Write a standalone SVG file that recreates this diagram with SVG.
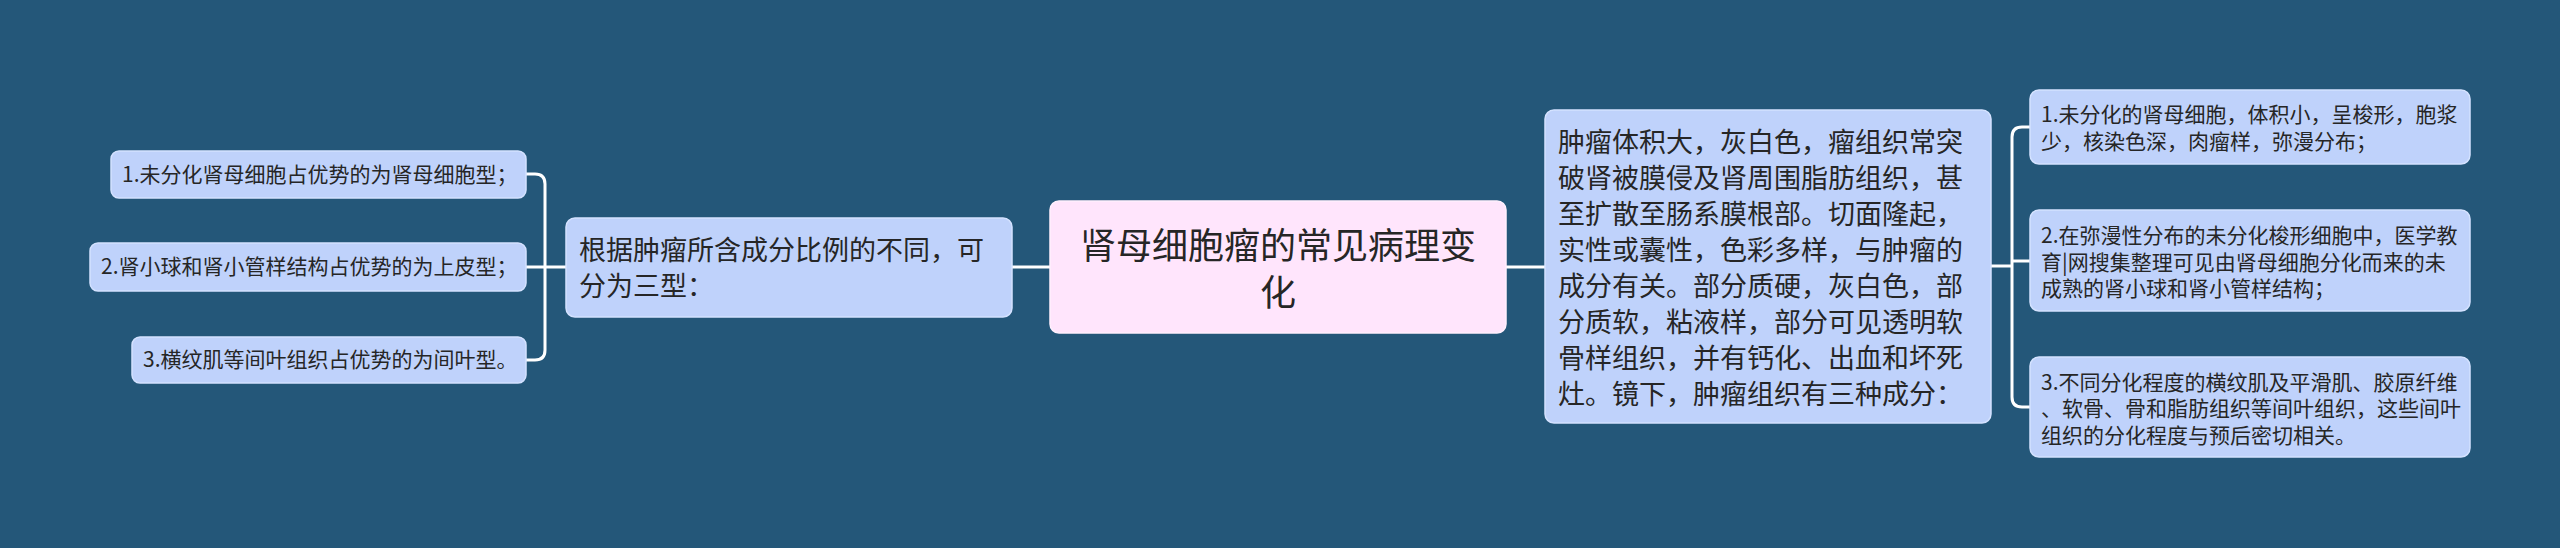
<svg xmlns="http://www.w3.org/2000/svg" width="2560" height="548" viewBox="0 0 2560 548">
<style>
.bg{fill:#245779}
.n{fill:#BFD2FB;stroke:#D4E2FF;stroke-width:1.5}
.root{fill:#FFE5FC;stroke:#FFF0FD;stroke-width:1.5}
.t{font-family:"Noto Sans CJK SC","Noto Sans",sans-serif;fill:#262626}
.t36{font-size:36px}
.t27{font-size:27px}
.t21{font-size:21px}
.c{fill:none;stroke:#FFFFFF;stroke-width:3}
</style>
<rect class="bg" x="0" y="0" width="2560" height="548"/>
<g id="connectors">
<path class="c" d="M1012 267 H1050"/>
<path class="c" d="M1506 267 H1545"/>
<path class="c" d="M566 267 H526"/>
<path class="c" d="M526 174 H535 Q545 174 545 184 V350 Q545 360 535 360 H526"/>
<path class="c" d="M1991 266 H2012"/>
<path class="c" d="M2030 127 H2022 Q2012 127 2012 137 V397 Q2012 407 2022 407 H2030"/>
<path class="c" d="M2012 261 H2030"/>
</g>
<g id="root">
<rect class="root" x="1050" y="201" width="456" height="132" rx="9"/>
<text class="t t36" x="1278" y="259" text-anchor="middle">肾母细胞瘤的常见病理变</text>
<text class="t t36" x="1278" y="306" text-anchor="middle">化</text>
</g>
<g id="left-branch">
<rect class="n" x="566" y="218" width="446" height="99" rx="9"/>
<text class="t t27" x="579" y="260">根据肿瘤所含成分比例的不同，可</text>
<text class="t t27" x="579" y="296">分为三型：</text>
</g>
<g id="left-leaf-1">
<rect class="n" x="111" y="151" width="415" height="47" rx="8"/>
<text class="t t21" x="122" y="182">1.未分化肾母细胞占优势的为肾母细胞型；</text>
</g>
<g id="left-leaf-2">
<rect class="n" x="90" y="243" width="436" height="48" rx="8"/>
<text class="t t21" x="101" y="274">2.肾小球和肾小管样结构占优势的为上皮型；</text>
</g>
<g id="left-leaf-3">
<rect class="n" x="132" y="337" width="394" height="46" rx="8"/>
<text class="t t21" x="143" y="367">3.横纹肌等间叶组织占优势的为间叶型。</text>
</g>
<g id="right-branch">
<rect class="n" x="1545" y="110" width="446" height="313" rx="9"/>
<text class="t t27" x="1558" y="152">肿瘤体积大，灰白色，瘤组织常突</text>
<text class="t t27" x="1558" y="188">破肾被膜侵及肾周围脂肪组织，甚</text>
<text class="t t27" x="1558" y="224">至扩散至肠系膜根部。切面隆起，</text>
<text class="t t27" x="1558" y="260">实性或囊性，色彩多样，与肿瘤的</text>
<text class="t t27" x="1558" y="296">成分有关。部分质硬，灰白色，部</text>
<text class="t t27" x="1558" y="332">分质软，粘液样，部分可见透明软</text>
<text class="t t27" x="1558" y="368">骨样组织，并有钙化、出血和坏死</text>
<text class="t t27" x="1558" y="404">灶。镜下，肿瘤组织有三种成分：</text>
</g>
<g id="right-leaf-1">
<rect class="n" x="2030" y="90" width="440" height="74" rx="9"/>
<text class="t t21" x="2041" y="122">1.未分化的肾母细胞，体积小，呈梭形，胞浆</text>
<text class="t t21" x="2041" y="149">少，核染色深，肉瘤样，弥漫分布；</text>
</g>
<g id="right-leaf-2">
<rect class="n" x="2030" y="210" width="440" height="101" rx="9"/>
<text class="t t21" x="2041" y="243">2.在弥漫性分布的未分化梭形细胞中，医学教</text>
<text class="t t21" x="2041" y="270">育|网搜集整理可见由肾母细胞分化而来的未</text>
<text class="t t21" x="2041" y="296">成熟的肾小球和肾小管样结构；</text>
</g>
<g id="right-leaf-3">
<rect class="n" x="2030" y="357" width="440" height="100" rx="9"/>
<text class="t t21" x="2041" y="390">3.不同分化程度的横纹肌及平滑肌、胶原纤维</text>
<text class="t t21" x="2041" y="416">、软骨、骨和脂肪组织等间叶组织，这些间叶</text>
<text class="t t21" x="2041" y="443">组织的分化程度与预后密切相关。</text>
</g>
</svg>
